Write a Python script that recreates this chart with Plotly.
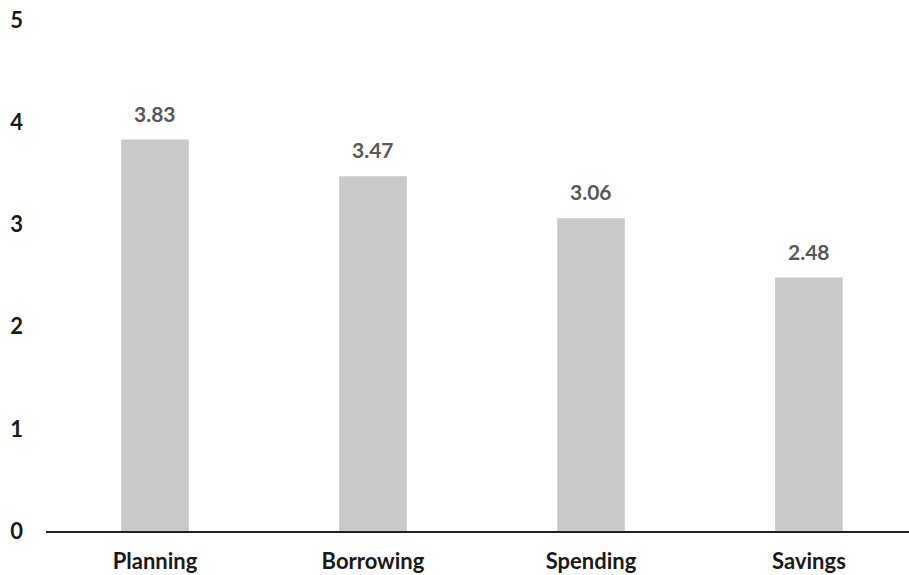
import plotly.graph_objects as go

categories = ["Planning", "Borrowing", "Spending", "Savings"]
values = [3.83, 3.47, 3.06, 2.48]
y_ticks = [0, 1, 2, 3, 4, 5]

fig = go.Figure(go.Bar(
    x=categories, y=values, width=0.31,
    marker=dict(color="#c8c9ca", line=dict(width=0)),
    hoverinfo="x+y",
))

for c, v in zip(categories, values):
    fig.add_annotation(
        x=c, y=v, text=f"{v:.2f}", showarrow=False,
        yanchor="bottom", yshift=12,
        font=dict(family="Lato", size=21, color="#595959", weight="bold"),
    )

fig.update_layout(
    width=909, height=575,
    margin=dict(l=46, r=0, t=20, b=44),
    plot_bgcolor="white", paper_bgcolor="white",
    showlegend=False,
    font=dict(family="Lato", color="#1a1a1a"),
    xaxis=dict(
        range=[-0.5, 3.459], showline=True, linecolor="#222222", linewidth=1.5,
        showgrid=False, ticks="", ticklabelstandoff=10, automargin=False,
        tickfont=dict(family="Lato", size=22, color="#1a1a1a", weight="bold"),
    ),
    yaxis=dict(
        range=[0, 5], tickvals=y_ticks, showgrid=False, zeroline=False,
        showline=False, ticks="", ticklabelstandoff=22, automargin=False,
        tickfont=dict(family="Lato", size=22, color="#1a1a1a", weight="bold"),
    ),
)

fig.write_html(
    "out.html",
    config={"displayModeBar": False},
    post_script="document.body.style.margin='0';document.body.style.overflow='hidden';",
)
